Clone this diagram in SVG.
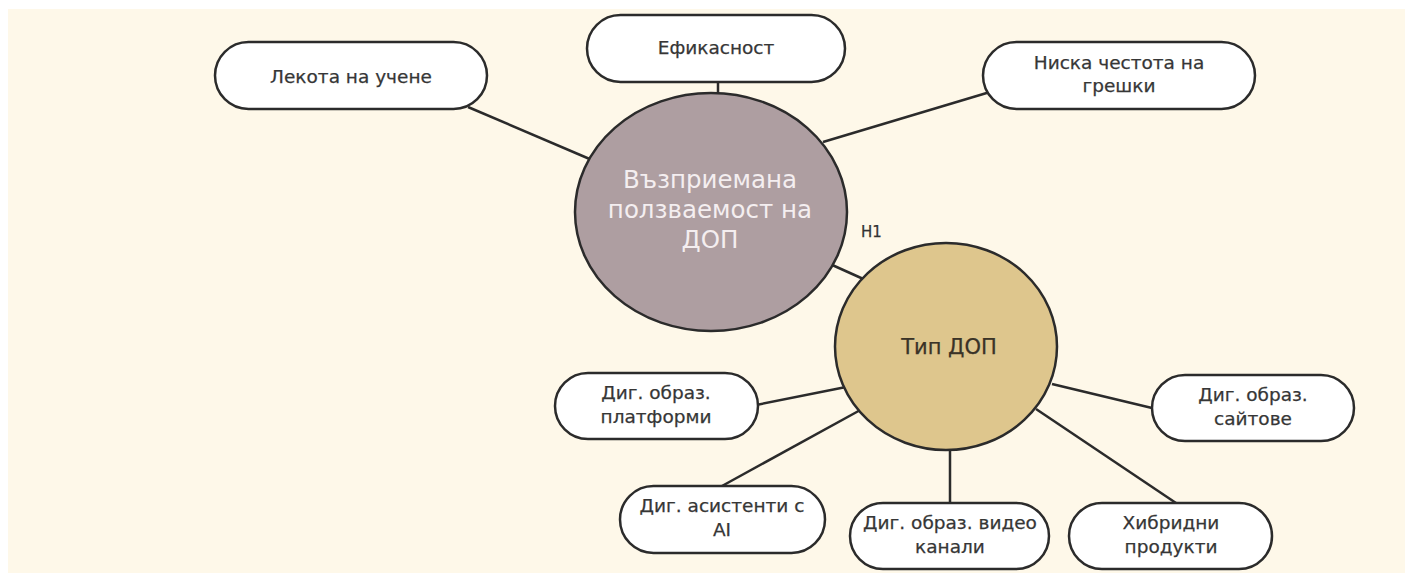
<svg xmlns="http://www.w3.org/2000/svg" width="1405" height="573" viewBox="0 0 1405 573">
<style>
.pill{fill:#ffffff;stroke:#2b2b2b;stroke-width:2.5}
.lbl{font-family:"DejaVu Sans","Liberation Sans",sans-serif;font-size:18.5px;fill:#363636;stroke:#363636;stroke-width:0.25;text-anchor:middle}
.big{font-family:"DejaVu Sans","Liberation Sans",sans-serif;font-size:24.5px;fill:#f4eef0;text-anchor:middle}
.mid{font-family:"DejaVu Sans","Liberation Sans",sans-serif;font-size:21px;fill:#3a3327;stroke:#3a3327;stroke-width:0.25;text-anchor:middle}
.conn line{stroke:#2b2b2b;stroke-width:2.5}
</style>
<rect x="0" y="0" width="1405" height="573" fill="#ffffff"/>
<rect x="8" y="9" width="1397" height="564" fill="#fef8e9"/>
<g id="connectors" class="conn">
<line x1="468" y1="107" x2="592" y2="160"/>
<line x1="718" y1="82" x2="718" y2="96"/>
<line x1="823" y1="142" x2="990" y2="92"/>
<line x1="830" y1="264" x2="870" y2="282"/>
<line x1="756" y1="405" x2="846" y2="387"/>
<line x1="722" y1="486" x2="864" y2="408"/>
<line x1="950" y1="446" x2="950" y2="503"/>
<line x1="1036" y1="409" x2="1176" y2="503"/>
<line x1="1052" y1="384" x2="1152" y2="408"/>
</g>
<g id="n-lekota">
<rect class="pill" x="215" y="42" width="272" height="67" rx="33.5"/>
<text class="lbl" x="351" y="83">Лекота на учене</text>
</g>
<g id="n-efikasnost">
<rect class="pill" x="587" y="15" width="258" height="67" rx="33.5"/>
<text class="lbl" x="716" y="54">Ефикасност</text>
</g>
<g id="n-niska">
<rect class="pill" x="983" y="42" width="272" height="67" rx="33.5"/>
<text class="lbl" x="1119" y="69">Ниска честота на</text>
<text class="lbl" x="1119" y="92">грешки</text>
</g>
<g id="n-main">
<ellipse cx="711" cy="212" rx="136" ry="119" fill="#ae9ea1" stroke="#2b2b2b" stroke-width="2.5"/>
<text class="big" x="710" y="188">Възприемана</text>
<text class="big" x="710" y="218">ползваемост на</text>
<text class="big" x="710" y="248">ДОП</text>
</g>
<g id="h1-label">
<text x="861" y="237" font-family="DejaVu Sans, Liberation Sans, sans-serif" font-size="15" fill="#333333" stroke="#333333" stroke-width="0.25">H1</text>
</g>
<g id="n-tip">
<ellipse cx="946" cy="346.5" rx="111" ry="103.5" fill="#dec68d" stroke="#2b2b2b" stroke-width="2.5"/>
<text class="mid" x="949" y="354">Тип ДОП</text>
</g>
<g id="n-platformi">
<rect class="pill" x="555" y="373" width="203" height="66" rx="33"/>
<text class="lbl" x="656" y="399">Диг. образ.</text>
<text class="lbl" x="656" y="423">платформи</text>
</g>
<g id="n-asistenti">
<rect class="pill" x="620" y="486" width="205" height="67" rx="33.5"/>
<text class="lbl" x="722" y="512">Диг. асистенти с</text>
<text class="lbl" x="722" y="536">AI</text>
</g>
<g id="n-video">
<rect class="pill" x="850" y="503" width="199" height="66" rx="33"/>
<text class="lbl" x="950" y="529">Диг. образ. видео</text>
<text class="lbl" x="950" y="553">канали</text>
</g>
<g id="n-hibridni">
<rect class="pill" x="1069" y="503" width="203" height="66" rx="33"/>
<text class="lbl" x="1171" y="529">Хибридни</text>
<text class="lbl" x="1171" y="553">продукти</text>
</g>
<g id="n-saitove">
<rect class="pill" x="1152" y="375" width="202" height="66" rx="33"/>
<text class="lbl" x="1253" y="401">Диг. образ.</text>
<text class="lbl" x="1253" y="425">сайтове</text>
</g>
</svg>
